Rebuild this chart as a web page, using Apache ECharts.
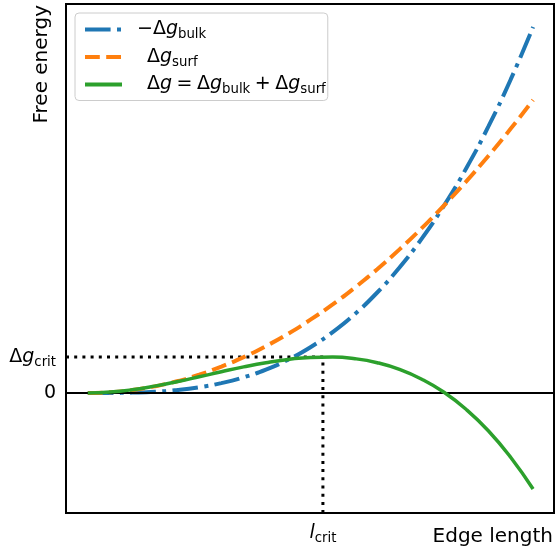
<!DOCTYPE html>
<html>
<head>
<meta charset="utf-8">
<script src="https://cdn.jsdelivr.net/npm/echarts@6/dist/echarts.min.js"></script>
<style>html,body{margin:0;padding:0;background:#fff;}#c{width:556px;height:551px;}</style>
</head>
<body>
<div id="c"></div>
<script>
// Edge length (arbitrary units)
const edgeLength = [0,0.5,1,1.5,2,2.5,3,3.5,4,4.5,5,5.5,6,6.5,7,7.5,8,8.5,9,9.5,10];
// -Δg_bulk
const negBulk = [0,0.005,0.04,0.12,0.29,0.57,0.99,1.57,2.34,3.34,4.58,6.09,7.91,10.05,12.55,15.44,18.74,22.48,26.68,31.38,36.6];
// Δg_surf
const surf = [0,0.07,0.29,0.66,1.17,1.83,2.64,3.59,4.69,5.93,7.33,8.86,10.55,12.38,14.36,16.48,18.75,21.17,23.73,26.44,29.3];
// Δg total
const total = [0,0.09,0.33,0.69,1.13,1.62,2.13,2.61,3.03,3.36,3.56,3.59,3.43,3.03,2.36,1.38,0.07,-1.65,-3.8,-6.45,-9.6];
// critical point
const lCrit = 5.28;
const gCrit = 3.6;
const seriesNames = ['negBulk','surf','total'];

const FONT = 'DejaVu Sans';
const rich = {
  n: {fontFamily: FONT, fontSize: 19, color: '#000', lineHeight: 24},
  i: {fontFamily: FONT, fontSize: 19, fontStyle: 'italic', color: '#000', lineHeight: 24},
  s: {fontFamily: FONT, fontSize: 13.3, color: '#000', lineHeight: 13, verticalAlign: 'bottom'},
  sp: {width: 10, fontSize: 19, lineHeight: 24},
  t: {width: 4.5, fontSize: 19, lineHeight: 24}
};
const legendLabels = {
  negBulk: '{n|−Δ}{i|g}{s|bulk}',
  surf: '{sp| }{n|Δ}{i|g}{s|surf}',
  total: '{sp| }{n|Δ}{i|g}{t| }{n|=}{t| }{n|Δ}{i|g}{s|bulk}{t| }{n|+}{t| }{n|Δ}{i|g}{s|surf}'
};
const pairs = vals => edgeLength.map((x, k) => [x, vals[k]]);
const xMin = -0.49, xMax = 10.47, yMin = -12, yMax = 38.9;

const chart = echarts.init(document.getElementById('c'), null, {renderer: 'canvas'});
chart.setOption({
  animation: false,
  grid: {left: 66, right: 2, top: 4, bottom: 38, show: true, borderColor: '#000', borderWidth: 2, backgroundColor: 'transparent'},
  xAxis: {
    type: 'value', min: xMin, max: xMax,
    axisLine: {show: false}, axisTick: {show: false}, splitLine: {show: false},
    axisLabel: {
      customValues: [lCrit], margin: 8,
      formatter: () => '{i|l}{s|crit}', rich: rich
    }
  },
  yAxis: {
    type: 'value', min: yMin, max: yMax,
    axisLine: {show: false}, axisTick: {show: false}, splitLine: {show: false},
    axisLabel: {
      customValues: [0, gCrit], margin: 10,
      formatter: v => v === 0 ? '{n|0}' : '{n|Δ}{i|g}{s|crit}', rich: rich
    }
  },
  legend: {
    orient: 'vertical', left: 75, top: 13, padding: [7, 2, 4, 8], itemGap: 6,
    itemWidth: 37, itemHeight: 20,
    itemStyle: {opacity: 0},
    lineStyle: {width: 4},
    backgroundColor: 'rgba(255,255,255,0.8)', borderColor: '#cccccc', borderWidth: 1, borderRadius: 4,
    data: seriesNames,
    formatter: n => legendLabels[n],
    textStyle: {fontFamily: FONT, fontSize: 19, color: '#000', rich: rich, padding: [0, 0, 0, 10]}
  },
  graphic: [
    {type: 'text', x: 42, y: 5, rotation: Math.PI / 2,
     style: {text: 'Free energy', fontFamily: FONT, fontSize: 20, fill: '#000', align: 'right', verticalAlign: 'middle'}},
    {type: 'text', x: 553, y: 537,
     style: {text: 'Edge length', fontFamily: FONT, fontSize: 20, fill: '#000', align: 'right', verticalAlign: 'middle'}}
  ],
  series: [
    {
      name: 'crit', type: 'line', data: [[xMin, gCrit], [lCrit, gCrit], [lCrit, yMin]],
      symbol: 'none', silent: true, z: 1,
      lineStyle: {color: '#000', width: 3, type: [3, 5.2]},
      markLine: {
        silent: true, symbol: 'none', label: {show: false},
        lineStyle: {color: '#000', width: 2, type: 'solid'},
        data: [{yAxis: 0}]
      }
    },
    {
      name: 'negBulk', type: 'line', data: pairs(negBulk), smooth: true, symbol: 'none', showSymbol: false, z: 3,
      lineStyle: {color: '#1f77b4', width: 4, type: [25.6, 6.4, 4, 6.4], cap: 'butt'},
      itemStyle: {color: '#1f77b4'}
    },
    {
      name: 'surf', type: 'line', data: pairs(surf), smooth: true, symbol: 'none', showSymbol: false, z: 4,
      lineStyle: {color: '#ff7f0e', width: 4, type: [14.8, 6.4], cap: 'butt'},
      itemStyle: {color: '#ff7f0e'}
    },
    {
      name: 'total', type: 'line', data: pairs(total), smooth: true, symbol: 'none', showSymbol: false, z: 5,
      lineStyle: {color: '#2ca02c', width: 3.5, type: 'solid'},
      itemStyle: {color: '#2ca02c'}
    }
  ]
});
</script>
</body>
</html>
